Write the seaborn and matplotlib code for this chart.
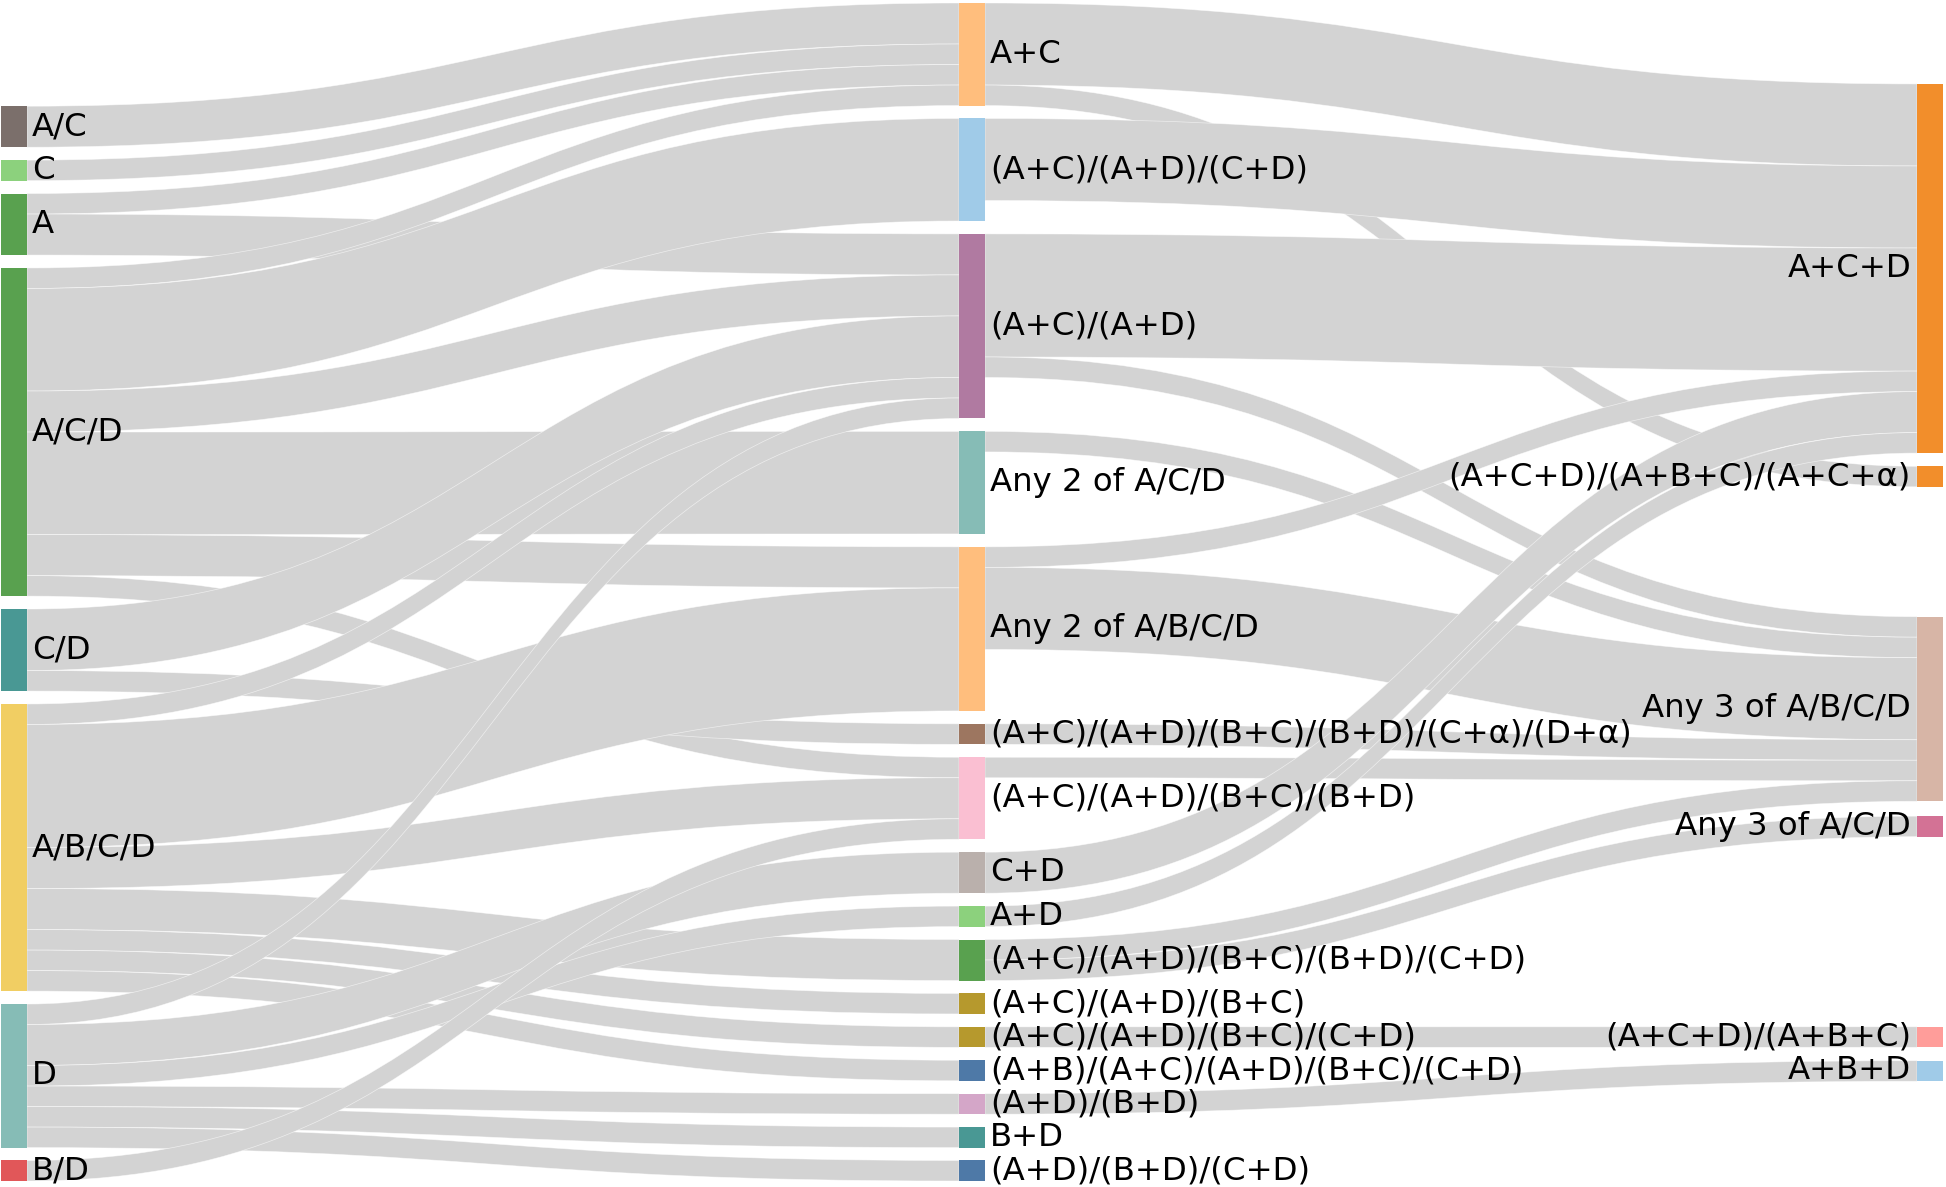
import numpy as np
import pandas as pd
import matplotlib.pyplot as plt
from matplotlib.path import Path
from matplotlib.patches import PathPatch, Rectangle
import seaborn as sns

sns.set_theme(style="white")
plt.rcParams['font.family'] = ['DejaVu Sans']

# ---- data ----
left_nodes = ["A/C", "C", "A", "A/C/D", "C/D", "A/B/C/D", "D", "B/D"]
middle_nodes = ["A+C", "(A+C)/(A+D)/(C+D)", "(A+C)/(A+D)", "Any 2 of A/C/D",
                "Any 2 of A/B/C/D", "(A+C)/(A+D)/(B+C)/(B+D)/(C+α)/(D+α)",
                "(A+C)/(A+D)/(B+C)/(B+D)", "C+D", "A+D",
                "(A+C)/(A+D)/(B+C)/(B+D)/(C+D)", "(A+C)/(A+D)/(B+C)",
                "(A+C)/(A+D)/(B+C)/(C+D)", "(A+B)/(A+C)/(A+D)/(B+C)/(C+D)",
                "(A+D)/(B+D)", "B+D", "(A+D)/(B+D)/(C+D)"]
right_nodes = ["A+C+D", "(A+C+D)/(A+B+C)/(A+C+α)", "Any 3 of A/B/C/D",
               "Any 3 of A/C/D", "(A+C+D)/(A+B+C)", "A+B+D"]

link_source = [
    "A/C", "C", "A", "A",
    "A/C/D", "A/C/D", "A/C/D", "A/C/D", "A/C/D", "A/C/D",
    "C/D", "C/D",
    "A/B/C/D", "A/B/C/D", "A/B/C/D", "A/B/C/D", "A/B/C/D", "A/B/C/D", "A/B/C/D",
    "D", "D", "D", "D", "D", "D",
    "B/D",
    "A+C", "A+C", "(A+C)/(A+D)/(C+D)", "(A+C)/(A+D)", "(A+C)/(A+D)",
    "Any 2 of A/C/D", "Any 2 of A/B/C/D", "Any 2 of A/B/C/D",
    "(A+C)/(A+D)/(B+C)/(B+D)/(C+α)/(D+α)", "(A+C)/(A+D)/(B+C)/(B+D)",
    "C+D", "A+D", "(A+C)/(A+D)/(B+C)/(B+D)/(C+D)", "(A+C)/(A+D)/(B+C)/(B+D)/(C+D)",
    "(A+C)/(A+D)/(B+C)/(C+D)", "(A+D)/(B+D)",
]
link_target = [
    "A+C", "A+C", "A+C", "(A+C)/(A+D)",
    "A+C", "(A+C)/(A+D)/(C+D)", "(A+C)/(A+D)", "Any 2 of A/C/D", "Any 2 of A/B/C/D",
    "(A+C)/(A+D)/(B+C)/(B+D)",
    "(A+C)/(A+D)", "(A+C)/(A+D)/(B+C)/(B+D)/(C+α)/(D+α)",
    "(A+C)/(A+D)", "Any 2 of A/B/C/D", "(A+C)/(A+D)/(B+C)/(B+D)",
    "(A+C)/(A+D)/(B+C)/(B+D)/(C+D)", "(A+C)/(A+D)/(B+C)", "(A+C)/(A+D)/(B+C)/(C+D)",
    "(A+B)/(A+C)/(A+D)/(B+C)/(C+D)",
    "(A+C)/(A+D)", "C+D", "A+D", "(A+D)/(B+D)", "B+D", "(A+D)/(B+D)/(C+D)",
    "(A+C)/(A+D)/(B+C)/(B+D)",
    "A+C+D", "(A+C+D)/(A+B+C)/(A+C+α)", "A+C+D", "A+C+D", "Any 3 of A/B/C/D",
    "Any 3 of A/B/C/D", "A+C+D", "Any 3 of A/B/C/D",
    "Any 3 of A/B/C/D", "Any 3 of A/B/C/D",
    "A+C+D", "A+C+D", "Any 3 of A/B/C/D", "Any 3 of A/C/D",
    "(A+C+D)/(A+B+C)", "A+B+D",
]
link_value = [
    2, 1, 1, 2,
    1, 5, 2, 5, 2, 1,
    3, 1,
    1, 6, 2, 2, 1, 1, 1,
    1, 2, 1, 1, 1, 1,
    1,
    4, 1, 4, 6, 1,
    1, 1, 4,
    1, 1,
    2, 1, 1, 1,
    1, 1,
]

# ---- styles ----
left_colors = ["#7b6f6b", "#8cd17d", "#59a14f", "#59a14f", "#499894",
               "#f1ce63", "#86bcb6", "#e15759"]
middle_colors = ["#ffbe7d", "#a0cbe8", "#b07aa1", "#86bcb6", "#ffbe7d", "#9d7660",
                 "#fabfd2", "#bab0ac", "#8cd17d", "#59a14f", "#b6992d", "#b6992d",
                 "#4e79a7", "#d4a6c8", "#499894", "#4e79a7"]
right_colors = ["#f28e2b", "#f28e2b", "#d7b5a6", "#d37295", "#ff9d9a", "#a0cbe8"]

W, H = 1946, 1187
plot_top, plot_bottom = 3, 1181
gap = 12.9
node_w = 26
col_x = [1, 959, 1917]
# vertical centre of the right-hand nodes, as a fraction of the plot height
right_center = [0.2254, 0.402, 0.5993, 0.699, 0.8778, 0.9066]

links = pd.DataFrame({"source": link_source, "target": link_target, "value": link_value})
nodes = left_nodes + middle_nodes + right_nodes
colors = dict(zip(nodes, sns.color_palette(left_colors + middle_colors + right_colors)))
out_sum = links.groupby("source")["value"].sum()
in_sum = links.groupby("target")["value"].sum()
node_value = {n: max(out_sum.get(n, 0), in_sum.get(n, 0)) for n in nodes}

unit = (plot_bottom - plot_top - gap * (len(middle_nodes) - 1)) / sum(node_value[n] for n in middle_nodes)

pos = {}
y = plot_top
for n in middle_nodes:
    h = node_value[n] * unit
    pos[n] = [col_x[1], y, y + h]
    y += h + gap
y = plot_bottom - sum(node_value[n] * unit for n in left_nodes) - gap * (len(left_nodes) - 1)
for n in left_nodes:
    h = node_value[n] * unit
    pos[n] = [col_x[0], y, y + h]
    y += h + gap
for n, c in zip(right_nodes, right_center):
    h = node_value[n] * unit
    yc = plot_top + c * (plot_bottom - plot_top)
    pos[n] = [col_x[2], yc - h / 2, yc + h / 2]

def centre(n):
    return (pos[n][1] + pos[n][2]) / 2

# stack the links on each node, ordered by the position of the other end
links["sy"] = 0.0
links["ty"] = 0.0
for n in nodes:
    out = links[links["source"] == n].copy()
    out = out.iloc[np.argsort([centre(t) for t in out["target"]], kind="stable")]
    y = pos[n][1]
    for i, row in out.iterrows():
        links.at[i, "sy"] = y
        y += row["value"] * unit
    inc = links[links["target"] == n].copy()
    inc = inc.iloc[np.argsort([centre(s) for s in inc["source"]], kind="stable")]
    y = pos[n][1]
    for i, row in inc.iterrows():
        links.at[i, "ty"] = y
        y += row["value"] * unit

fig = plt.figure(figsize=(W / 100, H / 100), dpi=100)
ax = fig.add_axes([0, 0, 1, 1])
ax.set_xlim(0, W)
ax.set_ylim(H, 0)
ax.axis("off")

for _, row in links.iterrows():
    x0 = pos[row["source"]][0] + node_w
    x1 = pos[row["target"]][0]
    h = row["value"] * unit
    y0, y1 = row["sy"], row["ty"]
    xm = (x0 + x1) / 2
    verts = [(x0, y0), (xm, y0), (xm, y1), (x1, y1),
             (x1, y1 + h), (xm, y1 + h), (xm, y0 + h), (x0, y0 + h), (x0, y0)]
    codes = [Path.MOVETO, Path.CURVE4, Path.CURVE4, Path.CURVE4,
             Path.LINETO, Path.CURVE4, Path.CURVE4, Path.CURVE4, Path.CLOSEPOLY]
    ax.add_patch(PathPatch(Path(verts, codes), facecolor="#d3d3d3",
                           edgecolor=(1, 1, 1, 0.6), lw=0.5, zorder=1))

for n in nodes:
    x, y0, y1 = pos[n]
    ax.add_patch(Rectangle((x, y0), node_w, y1 - y0, facecolor=colors[n],
                           edgecolor="none", zorder=2))
    if n in right_nodes:
        ax.text(x - 6, (y0 + y1) / 2, n, ha="right", va="center",
                fontsize=23.3, color="black", zorder=3)
    else:
        ax.text(x + node_w + 5, (y0 + y1) / 2, n, ha="left", va="center",
                fontsize=23.3, color="black", zorder=3)

fig.savefig("out.png", dpi=100)
